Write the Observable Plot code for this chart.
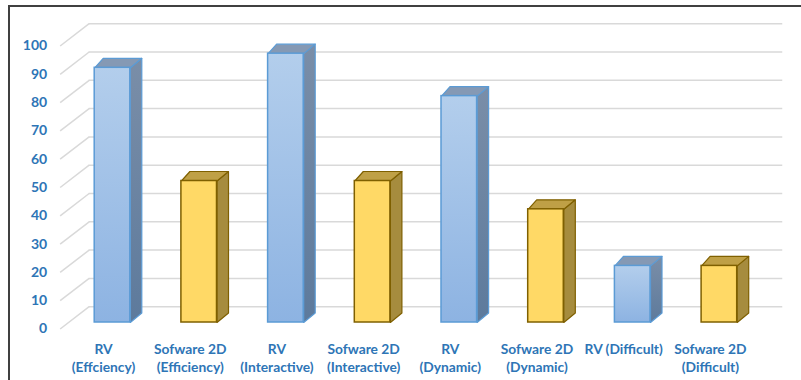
<!DOCTYPE html>
<html><head><meta charset="utf-8">
<script src="https://cdn.jsdelivr.net/npm/d3@7"></script>
<script src="https://cdn.jsdelivr.net/npm/@observablehq/plot@0.6"></script>
<style>
html,body{margin:0;padding:0;background:#fff;overflow:hidden;width:801px;height:380px;}
#wrap{position:relative;width:801px;height:380px;overflow:hidden;}
#border{position:absolute;left:8px;top:5px;width:1200px;height:1200px;border:2px solid #404040;box-sizing:border-box;pointer-events:none;}
</style></head><body><div id="wrap"><div id="chart"></div><div id="border"></div></div>
<script>
// ---- data ----
const categories = ["RV\n(Effciency)", "Sofware 2D\n(Efficiency)", "RV\n(Interactive)", "Sofware 2D\n(Interactive)", "RV\n(Dynamic)", "Sofware 2D\n(Dynamic)", "RV (Difficult)", "Sofware 2D\n(Difficult)"];
const series = ["RV", "Sofware 2D", "RV", "Sofware 2D", "RV", "Sofware 2D", "RV", "Sofware 2D"];
const values = [90, 50, 95, 50, 80, 40, 20, 20];
const yTicks = [0, 10, 20, 30, 40, 50, 60, 70, 80, 90, 100];

// ---- layout ----
const X0 = 68.65, X1 = 762.25, Y0 = 322, Y1 = 39;
const kx = (X1 - X0) / 8, ky = (Y0 - Y1) / 100;
const px2x = p => p / kx, px2y = p => p / ky;
const FRONT = {dx: -9, dy: 6.5};
const BACK = {dx: 20, dy: -15.8};
const depthX = px2x(BACK.dx - FRONT.dx), depthY = px2y(FRONT.dy - BACK.dy);

const bars = categories.map((c, i) => ({i, label: c, series: series[i], value: values[i]}));
const hw = px2x(17.8), dR = px2x(11.5), dL = px2x(8.5), dUp = px2y(9.5);

const sideFaces = bars.flatMap(b => [
  {id: b.i, s: b.series, x: b.i + hw, y: 0},
  {id: b.i, s: b.series, x: b.i + hw + dR, y: dUp},
  {id: b.i, s: b.series, x: b.i + hw + dR, y: b.value + dUp},
  {id: b.i, s: b.series, x: b.i + hw, y: b.value}
]);
const topFaces = bars.flatMap(b => [
  {id: b.i, s: b.series, x: b.i - hw, y: b.value},
  {id: b.i, s: b.series, x: b.i + hw, y: b.value},
  {id: b.i, s: b.series, x: b.i + hw + dR, y: b.value + dUp},
  {id: b.i, s: b.series, x: b.i - hw + dL, y: b.value + dUp}
]);

const styleOf = {
  "RV": {front: "url(#blueFront)", side: "url(#blueSide)", top: "#8599b4", stroke: "#5b9bd5"},
  "Sofware 2D": {front: "#ffd966", side: "#a68c3e", top: "#bfa046", stroke: "#7f6000"}
};

const barMarks = Object.keys(styleOf).flatMap(s => {
  const st = styleOf[s];
  return [
    Plot.line(sideFaces.filter(d => d.s === s), {x: "x", y: "y", z: "id", curve: "linear-closed", fill: st.side, stroke: st.stroke, strokeWidth: 1.2, strokeLinejoin: "round"}),
    Plot.line(topFaces.filter(d => d.s === s), {x: "x", y: "y", z: "id", curve: "linear-closed", fill: st.top, stroke: st.stroke, strokeWidth: 1.2, strokeLinejoin: "round"}),
    Plot.rect(bars.filter(d => d.series === s), {x1: d => d.i - hw, x2: d => d.i + hw, y1: () => 0, y2: "value", fill: st.front, stroke: st.stroke, strokeWidth: 1.5})
  ];
});

const textColor = "#2e75b6";
const font = "Lato, 'Open Sans', sans-serif";

const svg = Plot.plot({
  width: 801, height: 380,
  marginTop: 0, marginRight: 0, marginBottom: 0, marginLeft: 0,
  style: {fontFamily: font, background: "white"},
  x: {type: "linear", domain: [-0.5, 7.5], range: [X0, X1], axis: null},
  y: {type: "linear", domain: [0, 100], range: [Y0, Y1], axis: null},
  marks: [
    Plot.ruleY(yTicks, {y: d => d, x1: () => -0.5, x2: () => 7.5, dx: BACK.dx, dy: BACK.dy, stroke: "#d9d9d9", strokeWidth: 1.5}),
    Plot.link(yTicks, {x1: () => -0.5, y1: d => d, x2: () => -0.5 + depthX, y2: d => d + depthY, dx: FRONT.dx, dy: FRONT.dy, stroke: "#d9d9d9", strokeWidth: 1.5}),
    ...barMarks,
    Plot.text(yTicks, {x: () => -0.5, y: d => d, text: d => String(d), dx: FRONT.dx - 13, dy: FRONT.dy, textAnchor: "end", fill: textColor, fontWeight: "bold", fontSize: 14}),
    Plot.text(bars, {x: "i", y: () => 0, text: "label", dx: FRONT.dx, dy: 19, lineAnchor: "top", lineHeight: 1.3, textAnchor: "middle", fill: textColor, fontWeight: "bold", fontSize: 13.8})
  ]
});

const defs = d3.select(svg).insert("defs", ":first-child");
function grad(id, c1, c2) {
  const g = defs.append("linearGradient").attr("id", id).attr("x1", 0).attr("y1", 0).attr("x2", 0).attr("y2", 1);
  g.append("stop").attr("offset", "0%").attr("stop-color", c1);
  g.append("stop").attr("offset", "100%").attr("stop-color", c2);
}
grad("blueFront", "#b3ceec", "#8db3e2");
grad("blueSide", "#7a8ea8", "#5d7a9c");

document.getElementById("chart").appendChild(svg);
</script>
</body></html>
